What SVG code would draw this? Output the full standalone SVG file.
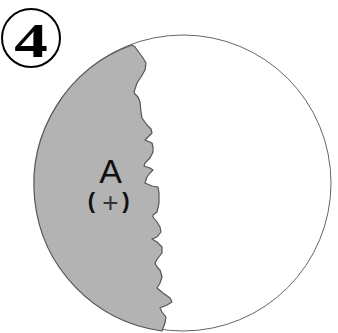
<svg xmlns="http://www.w3.org/2000/svg" width="338" height="333" viewBox="0 0 338 333">
<style>
.outline{fill:#fff;stroke:#666;stroke-width:1}
.shade{fill:#b3b3b3;stroke:#555;stroke-width:1.2;stroke-linejoin:round}
.lbl{font-family:"Liberation Sans","DejaVu Sans",sans-serif;fill:#111}
</style>
<rect width="338" height="333" fill="#fff"/>
<g id="badge">
<circle cx="31" cy="38" r="29" fill="none" stroke="#000" stroke-width="2"/>
<text x="31" y="57.5" text-anchor="middle" font-family="'Liberation Serif',serif" font-weight="bold" font-size="48" transform="translate(31,0) scale(1.4,1) translate(-31,0)" fill="#000">4</text>
</g>
<g id="disc">
<circle class="outline" cx="183" cy="183" r="148"/>
<path class="shade" d="M132,45 L135,47 L143,58 L146,63 L145,70 L141,77 L137,83 L134,92 L135,94 L138,97 L140,102 L141,112 L142,118 L147,125 L151,129 L152,133 L147,138 L145,140 L152,143 L153,147 L153,152 L150,158 L145,163 L144,166 L150,168 L153,170 L150,173 L147,177 L145,183 L152,186 L158,187 L159,193 L159,203 L157,212 L153,215 L153,217 L157,222 L160,227 L161,232 L157,237 L152,239 L157,242 L162,247 L162,253 L158,258 L155,263 L157,267 L160,270 L162,277 L160,283 L157,288 L163,293 L170,298 L172,302 L167,305 L160,308 L162,312 L166,317 L165,323 L163,328 L162,331 A148,148 0 0 1 132,45 Z"/>
</g>
<g id="labelA">
<text class="lbl" x="110.5" y="183" text-anchor="middle" font-size="34">A</text>
<text class="lbl" y="208" text-anchor="middle"><tspan x="91.5" font-size="22" font-weight="bold">(</tspan><tspan x="110.5" y="212" font-size="28" fill="#333">+</tspan><tspan x="126" y="208" font-size="22" font-weight="bold">)</tspan></text>
</g>
</svg>
